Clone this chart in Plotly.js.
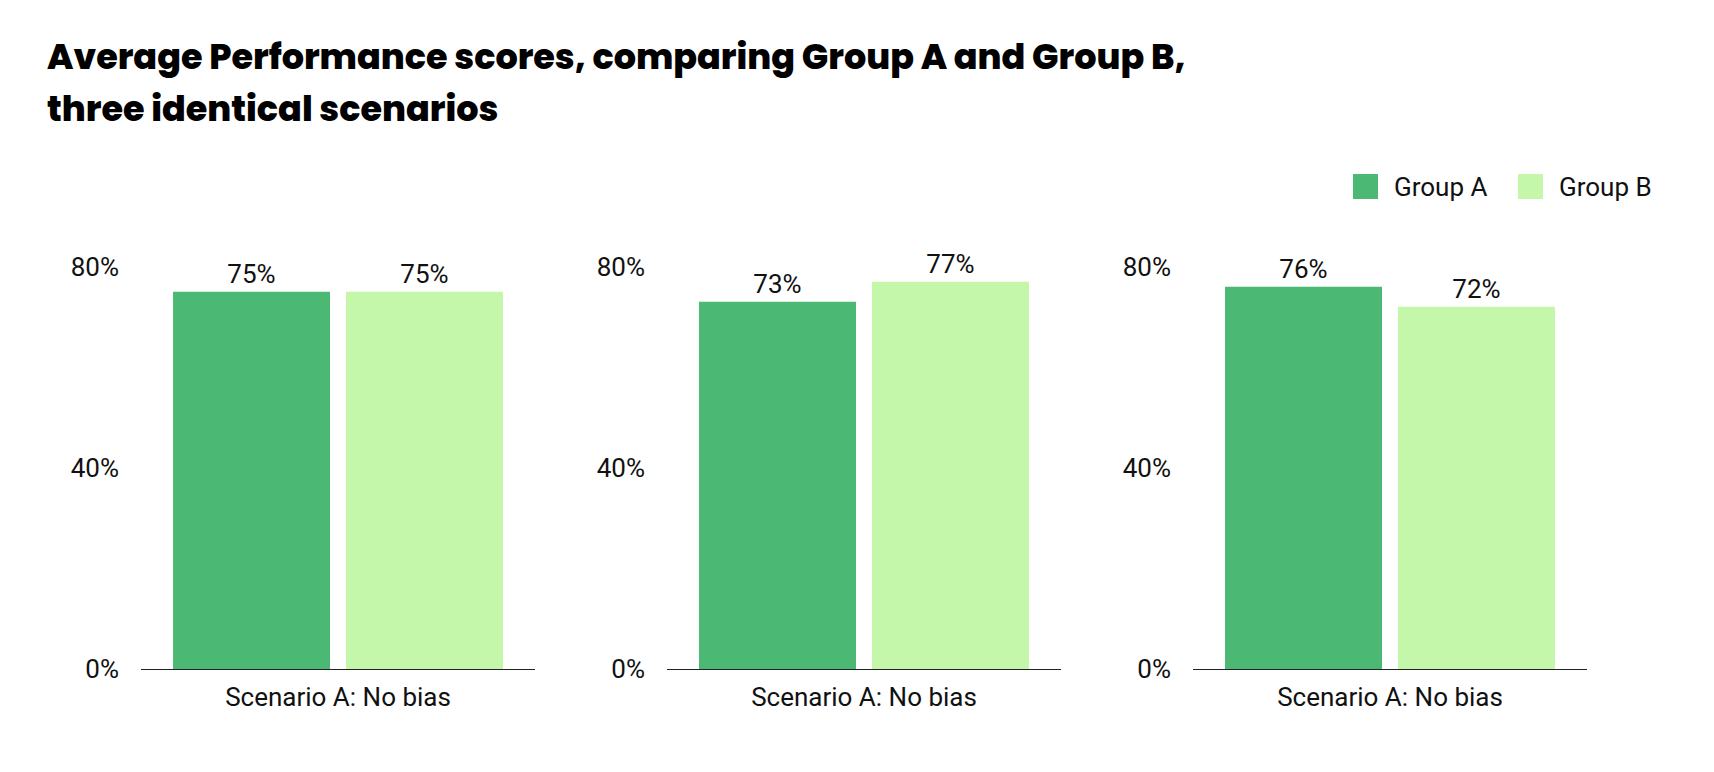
<!DOCTYPE html>
<html>
<head>
<meta charset="utf-8">
<script src="https://cdn.plot.ly/plotly-3.0.1.min.js"></script>
<style>
  html, body { margin: 0; padding: 0; background: #fff; }
  #chart { width: 1714px; height: 772px; }
</style>
</head>
<body>
<div id="chart"></div>
<script>
// data
const scenarioLabels = ['Scenario A: No bias', 'Scenario A: No bias', 'Scenario A: No bias'];
const groupNames = ['Group A', 'Group B'];
const groupAValues = [75, 73, 76];
const groupBValues = [75, 77, 72];
const yTicks = [0, 40, 80];

const colorA = '#4bb874';
const colorB = '#c5f7aa';
const textFont = { family: 'Roboto, sans-serif', size: 26, color: '#111' };

const W = 1714, H = 772;
const px = x => x / W;
const py = y => (H - y) / H;

// panel positions (pixels)
const panelX = [[141, 535], [667, 1061], [1193, 1587]];
const yDom = [py(669), py(266.6)];

const traces = [];
const layout = {
    width: W, height: H,
    margin: { t: 0, b: 0, l: 0, r: 0 },
    paper_bgcolor: '#fff',
    plot_bgcolor: '#fff',
    font: textFont,
    showlegend: false,
    barmode: 'group',
    bargap: 0.122,
    bargroupgap: 0.0925,
    annotations: [],
    shapes: []
};

scenarioLabels.forEach((label, i) => {
    const n = i === 0 ? '' : String(i + 1);
    const xa = 'x' + n, ya = 'y' + n;
    [groupAValues, groupBValues].forEach((vals, g) => {
        traces.push({
            type: 'bar',
            x: [label],
            y: [vals[i]],
            name: groupNames[g],
            xaxis: xa, yaxis: ya,
            marker: { color: g === 0 ? colorA : colorB },
            text: [vals[i] + '%'],
            textposition: 'outside',
            textfont: textFont,
            cliponaxis: false,
            hoverinfo: 'x+y'
        });
    });
    layout['xaxis' + n] = {
        domain: [px(panelX[i][0]), px(panelX[i][1])],
        anchor: ya,
        type: 'category',
        showline: true, linecolor: '#222', linewidth: 1,
        showgrid: false, zeroline: false,
        ticks: '', ticklabelstandoff: 5, tickfont: textFont,
        fixedrange: true
    };
    layout['yaxis' + n] = {
        domain: yDom,
        anchor: xa,
        range: [0, 80],
        tickvals: yTicks,
        ticktext: yTicks.map(t => t + '%'),
        showgrid: false, zeroline: false, showline: false,
        ticks: '', ticklabelstandoff: 21,
        tickfont: textFont,
        fixedrange: true
    };
});

// title (two lines, tight leading like the original)
const titleFont = { family: 'Poppins, Inter, "Open Sans", sans-serif', size: 35, color: '#000', weight: 800 };
layout.annotations.push(
    { text: 'Average Performance scores, comparing Group A and Group B,', xref: 'paper', yref: 'paper',
      x: px(45), y: py(56), xanchor: 'left', yanchor: 'middle', showarrow: false, font: titleFont },
    { text: 'three identical scenarios', xref: 'paper', yref: 'paper',
      x: px(45), y: py(109), xanchor: 'left', yanchor: 'middle', showarrow: false, font: titleFont }
);

// legend
const legendItems = [[1353, groupNames[0], colorA], [1518, groupNames[1], colorB]];
legendItems.forEach(([x0, name, col]) => {
    layout.shapes.push({ type: 'rect', xref: 'paper', yref: 'paper',
        x0: px(x0), x1: px(x0 + 25), y0: py(199), y1: py(174),
        fillcolor: col, line: { width: 0 } });
    layout.annotations.push({ text: name, xref: 'paper', yref: 'paper',
        x: px(x0 + 39), y: py(187), xanchor: 'left', yanchor: 'middle',
        showarrow: false, font: textFont });
});

Plotly.newPlot('chart', traces, layout, { displayModeBar: false, staticPlot: true });
</script>
</body>
</html>
